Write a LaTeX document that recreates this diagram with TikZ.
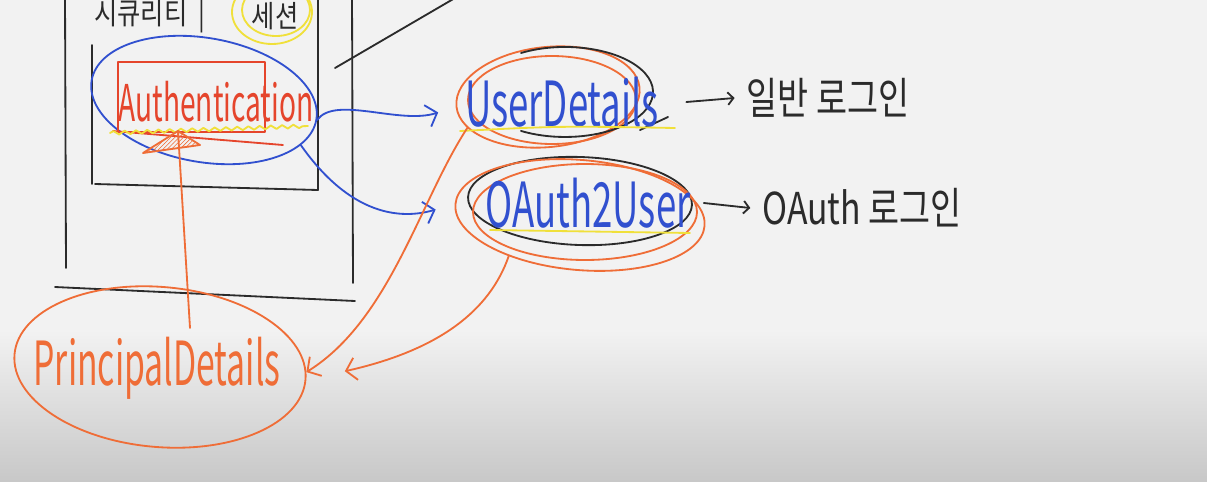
\documentclass[tikz,border=0pt]{standalone}
\usepackage{fontspec}
\usepackage{graphicx}
\setmainfont{Noto Sans CJK KR}
\usetikzlibrary{shapes.geometric,arrows.meta,decorations.pathmorphing,patterns}
\newcommand{\handtext}[2][1.6]{\scalebox{1}[#1]{#2}}
\definecolor{boardbg}{HTML}{F2F2F2}
\definecolor{boardlow}{HTML}{C8C8C8}
\definecolor{penblue}{HTML}{3150CF}
\definecolor{penorange}{HTML}{EF6D37}
\definecolor{penred}{HTML}{E5452C}
\definecolor{penblack}{HTML}{2B2B2B}
\definecolor{penyellow}{HTML}{F0E03A}
\tikzset{
  pen/.style={line width=1.3pt, line cap=round, line join=round},
  ring/.style={pen, draw, ellipse, inner sep=0pt},
  barb/.style={-{Straight Barb[length=7pt,width=16pt]}},
  smallbarb/.style={-{Straight Barb[length=4pt,width=9pt]}},
  handfont/.style={font=\fontsize{#1}{#1}\selectfont},
}

\begin{document}
\begin{tikzpicture}[x=0.025cm, y=-0.025cm]
  \useasboundingbox (0,0) rectangle (1207,481);
  \clip (0,0) rectangle (1207,481);
  % Board
  \fill[boardbg] (0,0) rectangle (1207,481);
  \shade[top color=boardbg, bottom color=boardlow] (0,330) rectangle (1207,481);

  % Session boxes
  \draw[pen, penblack] (65,-5) -- (66,268);
  \draw[pen, penblack] (352,-5) -- (353,283);
  \draw[pen, penblack] (55,287) -- (355,301);
  \draw[pen, penblack] (92,45) -- (92,184);
  \draw[pen, penblack] (318,-5) -- (318,190);
  \draw[pen, penblack] (95,184) -- (318,190);
  \draw[pen, penblack] (335,68) -- (455,-2);
  \node[handfont=18, text=penblack] (sec) at (150,16) {\handtext[1.2]{시큐리티\ \ |}};
  \node[handfont=18, text=penblack] (sess) at (275,16) {\handtext[1.2]{세션}};
  \draw[pen, penyellow] (272,12) ellipse [x radius=40, y radius=32];
  \draw[pen, penyellow] (276,10) ellipse [x radius=34, y radius=26];

  % Authentication
  \node[ring, draw=penblue, minimum width=5.7cm, minimum height=3.1cm, rotate=-10] (authring) at (204,100) {};
  \draw[pen, penred] (118,62) rectangle (265,132);
  \draw[pen, penred] (113,131) -- (283,145);
  \node[handfont=20, text=penred] (auth) at (216,102) {\handtext[1.8]{Authentication}};
  \draw[pen, penyellow, decorate, decoration={snake, amplitude=1.3pt, segment length=8pt}] (110,133) -- (308,126);

  % UserDetails and OAuth2User
  \node[ring, draw=penorange, minimum width=4.6cm, minimum height=2.5cm, rotate=6] (udring) at (548,97) {};
  \draw[pen, penorange] (552,100) ellipse [x radius=84, y radius=44];
  \draw[pen, penblack] (521,53) arc [start angle=240, end angle=480, x radius=88, y radius=45];
  \draw[pen, penblack] (640,130) -- (668,117);
  \node[handfont=26, text=penblue] (ud) at (562,102) {\handtext[1.7]{UserDetails}};
  \draw[pen, penyellow] (460,131) .. controls (560,126) .. (675,128);

  \node[ring, draw=penblack, minimum width=5.6cm, minimum height=2.2cm, rotate=-2] (ouring) at (580,201) {};
  \node[ring, draw=penorange, minimum width=6.25cm, minimum height=2.75cm, rotate=-5] (ouring2) at (580,215) {};
  \draw[pen, penorange] (585,212) ellipse [x radius=112, y radius=48];
  \node[handfont=26, text=penblue] (ou) at (588,203) {\handtext[1.7]{OAuth2User}};
  \draw[pen, penyellow] (490,230) -- (690,233);

  % Login notes
  \node[handfont=24, text=penblack] (ln) at (828,98) {\handtext[1.3]{일반 로그인}};
  \node[handfont=24, text=penblack] (on) at (862,208) {\handtext[1.3]{OAuth 로그인}};
  \draw[pen, penblack, smallbarb] ([xshift=16pt]ud.east) -- ([xshift=-5pt]ln.west);
  \draw[pen, penblack, smallbarb] ([xshift=6pt]ou.east) -- ([xshift=-5pt]on.west);

  % Blue connectors
  \draw[pen, penblue, barb, shorten >=13pt] (authring.east) .. controls (335,95) and (400,125) .. (udring.west);
  \draw[pen, penblue, barb, shorten >=14pt] (authring.-15) .. controls (350,215) and (400,220) .. (ouring2.west);

  % PrincipalDetails
  \node[ring, draw=penorange, minimum width=7.3cm, minimum height=4cm, rotate=-5] (pd) at (160,367) {};
  \node[handfont=24, text=penorange] (pdtext) at (157,368) {\handtext[1.8]{PrincipalDetails}};
  \coordinate (pdtop) at (190,328);
  \coordinate (uptip) at (178,131);
  \draw[pen, penorange] (pdtop) -- (uptip);
  \draw[pen, penorange, pattern=north east lines, pattern color=penorange] (uptip) -- (143,153) -- (200,145) -- cycle;
  \draw[pen, penorange, barb] (udring.195) .. controls (420,200) and (390,320) .. (pd.3);
  \draw[pen, penorange, barb, shorten >=28pt] (ouring2.215) .. controls (490,310) and (440,350) .. (pd.0);
\end{tikzpicture}
\end{document}
